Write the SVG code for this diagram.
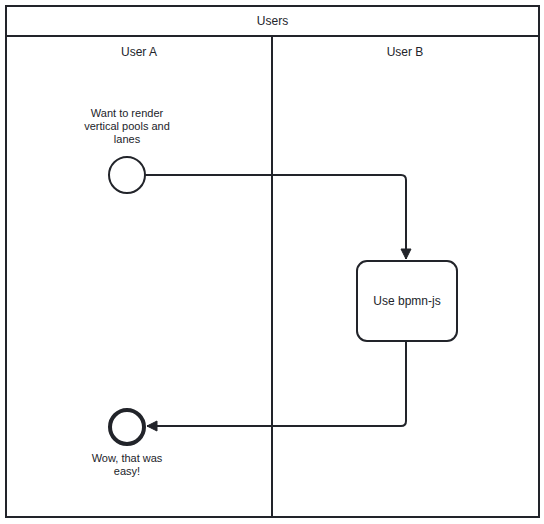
<svg xmlns="http://www.w3.org/2000/svg" width="544" height="524" viewBox="0 0 544 524">
<style>
.s{fill:none;stroke:#22242a;stroke-width:2}
.t{font-family:"Liberation Sans",Arial,sans-serif;fill:#22242a;text-anchor:middle}
.f{fill:none;stroke:#22242a;stroke-width:2;stroke-linejoin:round}
</style>
<defs>
<marker id="arr" viewBox="0 0 20 20" refX="11" refY="10" markerWidth="10" markerHeight="10" orient="auto">
<path d="M1,5 L11,10 L1,15 Z" fill="#22242a" stroke="#22242a" stroke-width="1"/>
</marker>
</defs>
<rect width="544" height="524" fill="#fff"/>
<g id="pool">
<rect class="s" x="6" y="6" width="533" height="511" fill="#fff"/>
<line class="s" x1="6" y1="36" x2="539" y2="36"/>
<text class="t" x="272.5" y="25" font-size="12">Users</text>
</g>
<g id="laneA">
<line class="s" x1="272" y1="36" x2="272" y2="517"/>
<text class="t" x="139" y="56" font-size="12">User A</text>
</g>
<g id="laneB">
<text class="t" x="405" y="56" font-size="12">User B</text>
</g>
<g id="connectors">
<path class="f" d="M145,175 L401,175 Q406,175 406,180 L406,259" marker-end="url(#arr)"/>
<path class="f" d="M406,341 L406,421 Q406,426 401,426 L147,426" marker-end="url(#arr)"/>
</g>
<g id="start">
<circle cx="127" cy="175" r="18" fill="#fff" stroke="#22242a" stroke-width="2"/>
<text class="t" font-size="11"><tspan x="127" y="117">Want to render</tspan><tspan x="127" y="130">vertical pools and</tspan><tspan x="127" y="143">lanes</tspan></text>
</g>
<g id="task">
<rect x="357" y="261" width="100" height="80" rx="10" fill="#fff" stroke="#22242a" stroke-width="2"/>
<text class="t" x="407" y="305" font-size="12">Use bpmn-js</text>
</g>
<g id="end">
<circle cx="127" cy="427" r="17" fill="#fff" stroke="#22242a" stroke-width="4"/>
<text class="t" font-size="11"><tspan x="127" y="462">Wow, that was</tspan><tspan x="127" y="475">easy!</tspan></text>
</g>
</svg>
